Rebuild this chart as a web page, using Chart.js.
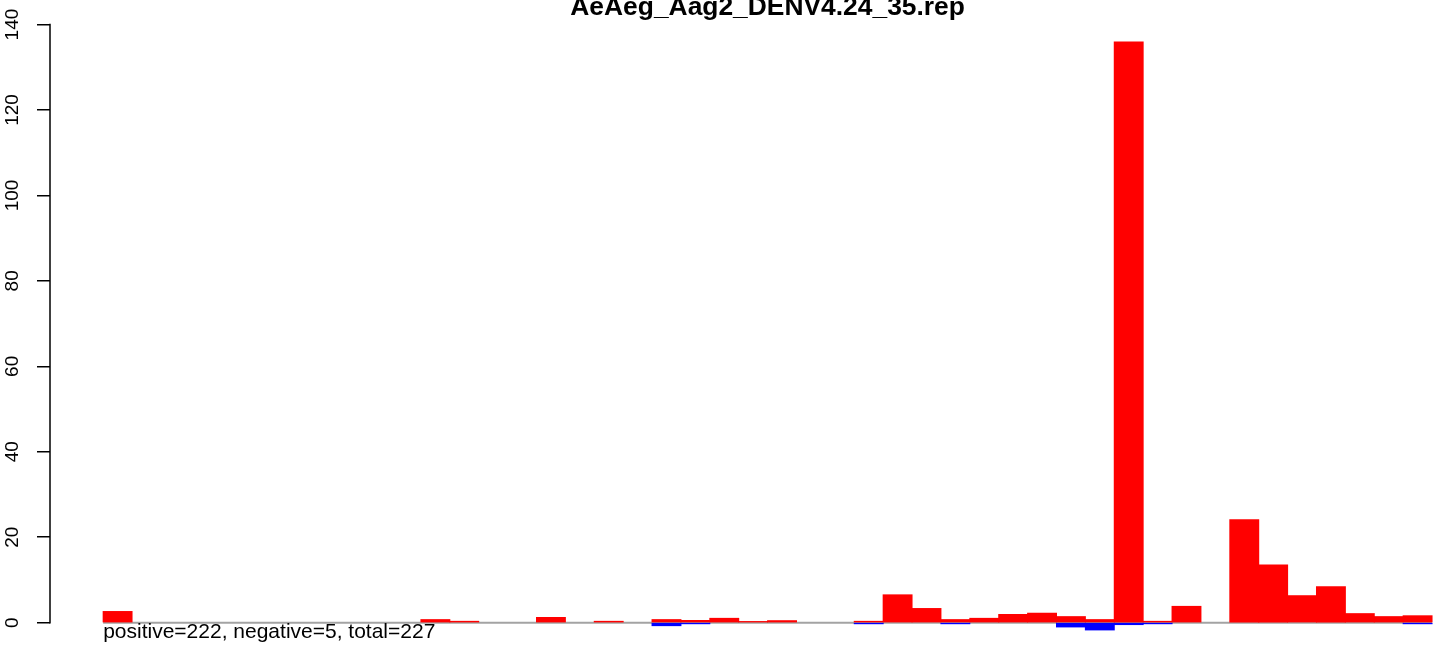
<!DOCTYPE html>
<html><head><meta charset="utf-8">
<script src="https://cdn.jsdelivr.net/npm/chart.js@4/dist/chart.umd.min.js"></script>
<style>html,body{margin:0;padding:0;background:#fff;overflow:hidden}canvas{display:block}</style>
</head><body>
<canvas id="c" width="1441" height="645"></canvas>
<script>
const titleText = 'AeAeg_Aag2_DENV4.24_35.rep';
const noteText = 'positive=222, negative=5, total=227';
const positions = [0,1,2,3,4,5,6,7,8,9,10,11,12,13,14,15,16,17,18,19,20,21,22,23,24,25,26,27,28,29,30,31,32,33,34,35,36,37,38,39,40,41,42,43,44,45];
const positiveValues = [2.6,0,0,0,0,0,0,0,0,0,0,0.7,0.3,0,0,1.2,0,0.3,0,0.7,0.5,1.0,0.25,0.45,0,0,0.3,6.5,3.3,0.7,1.0,1.9,2.2,1.4,0.7,135.9,0.3,3.8,0,24.1,13.5,6.3,8.4,2.1,1.4,1.6];
const negativeValues = [0,0,0,0,0,0,0,0,0,0,0,0,0,0,0,0,0,0,0,-0.7,-0.25,0,0,0,0,0,-0.25,0,0,-0.25,0,0,0,-1.0,-1.7,-0.45,-0.25,0,0,0,0,0,0,0,0,-0.25];
const yTicks = [0,20,40,60,80,100,120,140];
const baseRange = [-0.5, 45.5];

const FONT = '"Liberation Sans", Arial, Helvetica, sans-serif';

const extras = {
  id: 'extras',
  afterDraw(chart) {
    const ctx = chart.ctx;
    const y = chart.scales.y, x = chart.scales.x;
    ctx.save();
    ctx.strokeStyle = '#000';
    ctx.lineWidth = 1.5;
    ctx.beginPath();
    const ax = chart.chartArea.left;
    ctx.moveTo(ax, y.getPixelForValue(yTicks[0]) + 0.75);
    ctx.lineTo(ax, y.getPixelForValue(yTicks[yTicks.length - 1]) - 0.75);
    ctx.stroke();
    ctx.fillStyle = '#000';
    ctx.font = 'bold 26.4px ' + FONT;
    ctx.textAlign = 'center';
    ctx.textBaseline = 'alphabetic';
    ctx.fillText(titleText, x.getPixelForValue((x.min + 47.34) / 2), 15);
    ctx.font = '21px ' + FONT;
    ctx.textAlign = 'left';
    ctx.fillText(noteText, x.getPixelForValue(baseRange[0]), 638);
    ctx.restore();
  }
};

const toPoints = vals => positions.map((p, i) => ({x: p, y: vals[i] === 0 ? null : vals[i]}));

new Chart(document.getElementById('c'), {
  type: 'bar',
  data: {
    datasets: [
      {
        type: 'line',
        label: 'base',
        data: baseRange.map(v => ({x: v, y: 0})),
        borderColor: '#a3a3a3',
        borderWidth: 2,
        pointRadius: 0,
        order: 3
      },
      {
        label: 'positive',
        data: toPoints(positiveValues),
        backgroundColor: '#ff0000',
        borderWidth: 0,
        inflateAmount: 0.5,
        grouped: false,
        barPercentage: 1,
        categoryPercentage: 1,
        order: 2
      },
      {
        label: 'negative',
        data: toPoints(negativeValues),
        backgroundColor: '#0000ff',
        borderWidth: 0,
        inflateAmount: 0.5,
        grouped: false,
        barPercentage: 1,
        categoryPercentage: 1,
        order: 1
      }
    ]
  },
  options: {
    responsive: false,
    animation: false,
    devicePixelRatio: 1,
    layout: {padding: {top: 16, bottom: 1, left: 0, right: 0}},
    plugins: {legend: {display: false}, tooltip: {enabled: false}, title: {display: false}},
    scales: {
      x: {type: 'linear', min: -2.34, max: 45.81, display: false, offset: false},
      y: {
        type: 'linear', position: 'left', min: -5, max: 142,
        border: {display: false},
        grid: {drawOnChartArea: false, drawTicks: true, tickLength: 13, color: '#000', lineWidth: 1.5},
        ticks: {minRotation: 90, maxRotation: 90, crossAlign: 'center', padding: 8, color: '#000',
                font: {family: FONT, size: 19}},
        afterBuildTicks: s => { s.ticks = yTicks.map(v => ({value: v})); },
        afterFit: s => { s.width = 50; s.paddingTop = 0; s.paddingBottom = 0; }
      }
    }
  },
  plugins: [extras]
});
</script>
</body></html>
